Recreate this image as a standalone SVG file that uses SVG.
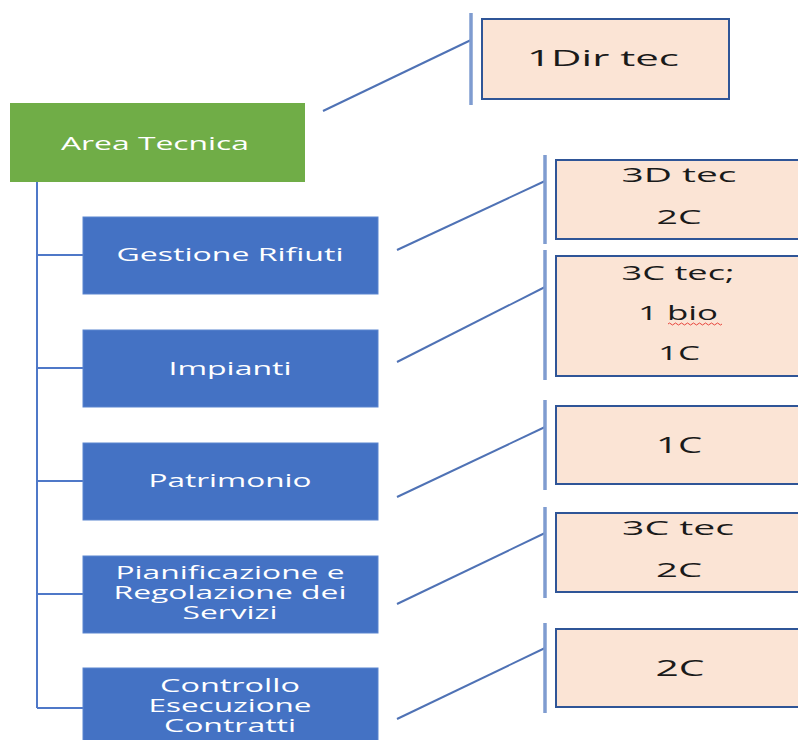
<svg xmlns="http://www.w3.org/2000/svg" width="798" height="740" viewBox="0 0 798 740">
  <style>
    .root { fill: #70AD47; }
    .unit { fill: #4472C4; stroke: #5B85CF; stroke-width: 1; }
    .staff { fill: #FBE4D5; stroke: #2F5597; stroke-width: 2; }
    .bar { stroke: #7F9CD0; stroke-width: 3.5; fill: none; }
    .link { stroke: #4F72B5; stroke-width: 2; fill: none; }
    .tree { stroke: #4F78C8; stroke-width: 2; fill: none; }
    .wt { font-family: "Open Sans", "Liberation Sans", Arial, sans-serif; font-size: 18px; fill: #FFFFFF; text-anchor: middle; }
    .bt { font-family: "Open Sans", "Liberation Sans", Arial, sans-serif; font-size: 20px; fill: #1A1A1A; text-anchor: middle; }
    .big { font-size: 22px; }
  </style>
  <rect width="798" height="740" fill="#FFFFFF"/>

  <!-- connectors -->
  <g id="connectors">
    <path class="tree" d="M37 182 V708 M37 255 H83 M37 368 H83 M37 481 H83 M37 594 H83 M37 708 H83"/>
    <path class="link" d="M323 111 L471 40"/>
    <path class="link" d="M397 250 L545 181"/>
    <path class="link" d="M397 362 L545 287"/>
    <path class="link" d="M397 497 L545 427"/>
    <path class="link" d="M397 604 L545 533"/>
    <path class="link" d="M397 719 L545 648"/>
    <path class="bar" d="M471 13 V105"/>
    <path class="bar" d="M545 155 V244"/>
    <path class="bar" d="M545 250 V380"/>
    <path class="bar" d="M545 400 V490"/>
    <path class="bar" d="M545 507 V598"/>
    <path class="bar" d="M545 623 V713"/>
  </g>

  <g id="area-tecnica">
    <rect class="root" x="10" y="103" width="295" height="79"/>
    <text class="wt" x="155" y="149.5" textLength="188" lengthAdjust="spacingAndGlyphs">Area Tecnica</text>
  </g>

  <g id="staff-direzione">
    <rect class="staff" x="482" y="19" width="247" height="80"/>
    <text class="bt big" x="603" y="66" textLength="152" lengthAdjust="spacingAndGlyphs">1Dir tec</text>
  </g>

  <g id="gestione-rifiuti">
    <rect class="unit" x="83" y="217" width="295" height="77"/>
    <text class="wt" x="230" y="261" textLength="227" lengthAdjust="spacingAndGlyphs">Gestione Rifiuti</text>
  </g>
  <g id="staff-gestione">
    <rect class="staff" x="556" y="160" width="260" height="79"/>
    <text class="bt" x="679" y="182" textLength="115" lengthAdjust="spacingAndGlyphs">3D tec</text>
    <text class="bt" x="679" y="224" textLength="45" lengthAdjust="spacingAndGlyphs">2C</text>
  </g>

  <g id="impianti">
    <rect class="unit" x="83" y="330" width="295" height="77"/>
    <text class="wt" x="230" y="375" textLength="123" lengthAdjust="spacingAndGlyphs">Impianti</text>
  </g>
  <g id="staff-impianti">
    <rect class="staff" x="556" y="256" width="260" height="120"/>
    <text class="bt" x="678" y="280" textLength="113" lengthAdjust="spacingAndGlyphs">3C tec;</text>
    <text class="bt" x="678" y="320" textLength="80" lengthAdjust="spacingAndGlyphs">1 bio</text>
    <path d="M668 324 q1.5 -2 3 0 t3 0 t3 0 t3 0 t3 0 t3 0 t3 0 t3 0 t3 0 t3 0 t3 0 t3 0 t3 0 t3 0 t3 0 t3 0 t3 0 t3 0" fill="none" stroke="#E8453C" stroke-width="1"/>
    <text class="bt" x="679" y="360" textLength="42" lengthAdjust="spacingAndGlyphs">1C</text>
  </g>

  <g id="patrimonio">
    <rect class="unit" x="83" y="443" width="295" height="77"/>
    <text class="wt" x="230" y="487" textLength="163" lengthAdjust="spacingAndGlyphs">Patrimonio</text>
  </g>
  <g id="staff-patrimonio">
    <rect class="staff" x="556" y="406" width="260" height="78"/>
    <text class="bt big" x="679" y="453" textLength="46" lengthAdjust="spacingAndGlyphs">1C</text>
  </g>

  <g id="pianificazione">
    <rect class="unit" x="83" y="556" width="295" height="77"/>
    <text class="wt" x="230" y="579" textLength="229" lengthAdjust="spacingAndGlyphs">Pianificazione e</text>
    <text class="wt" x="230" y="599" textLength="233" lengthAdjust="spacingAndGlyphs">Regolazione dei</text>
    <text class="wt" x="230" y="619" textLength="95" lengthAdjust="spacingAndGlyphs">Servizi</text>
  </g>
  <g id="staff-pianificazione">
    <rect class="staff" x="556" y="513" width="260" height="79"/>
    <text class="bt" x="678" y="535" textLength="112" lengthAdjust="spacingAndGlyphs">3C tec</text>
    <text class="bt" x="679" y="577" textLength="46" lengthAdjust="spacingAndGlyphs">2C</text>
  </g>

  <g id="controllo">
    <rect class="unit" x="83" y="668" width="295" height="80"/>
    <text class="wt" x="230" y="692" textLength="140" lengthAdjust="spacingAndGlyphs">Controllo</text>
    <text class="wt" x="230" y="712" textLength="163" lengthAdjust="spacingAndGlyphs">Esecuzione</text>
    <text class="wt" x="230" y="732" textLength="132" lengthAdjust="spacingAndGlyphs">Contratti</text>
  </g>
  <g id="staff-controllo">
    <rect class="staff" x="556" y="629" width="260" height="78"/>
    <text class="bt big" x="680" y="676" textLength="49" lengthAdjust="spacingAndGlyphs">2C</text>
  </g>
</svg>
